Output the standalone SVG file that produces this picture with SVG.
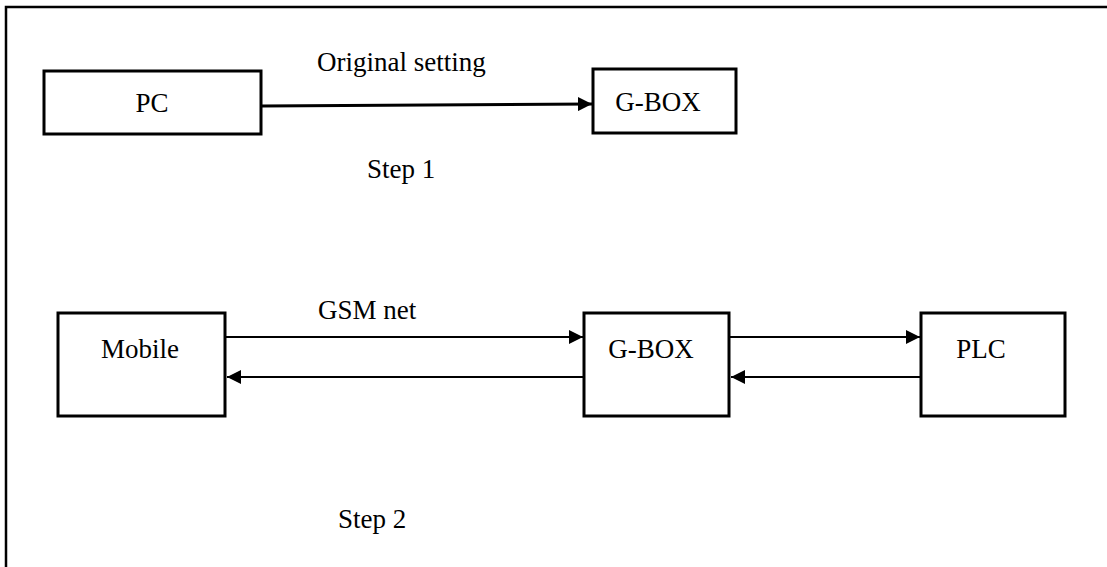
<svg xmlns="http://www.w3.org/2000/svg" width="1107" height="567" viewBox="0 0 1107 567">
<defs>
<style>
.box{fill:#fff;stroke:#000;stroke-width:3}
.lbl{font-family:"Liberation Serif","Times New Roman",serif;font-size:27px;fill:#000}
.c1{stroke:#000;stroke-width:3;fill:none}
.c2{stroke:#000;stroke-width:2;fill:none}
</style>
<marker id="ah2" viewBox="0 0 10 10" refX="10" refY="5" markerWidth="14" markerHeight="14" markerUnits="userSpaceOnUse" orient="auto">
<path d="M0,0 L10,5 L0,10 Z" fill="#000"/>
</marker>
</defs>
<rect width="1107" height="567" fill="#fff"/>
<path d="M6,567 L6,7 L1107,7" fill="none" stroke="#000" stroke-width="2.5"/>
<g id="pc"><rect class="box" x="44" y="71" width="217" height="63"/><text class="lbl" x="152" y="112" text-anchor="middle">PC</text></g>
<g id="gbox1"><rect class="box" x="593" y="69" width="143" height="64"/><text class="lbl" x="658" y="111" text-anchor="middle">G-BOX</text></g>
<g id="mobile"><rect class="box" x="58" y="313" width="167" height="103"/><text class="lbl" x="140" y="358" text-anchor="middle">Mobile</text></g>
<g id="gbox2"><rect class="box" x="584" y="313" width="145" height="103"/><text class="lbl" x="651" y="358" text-anchor="middle">G-BOX</text></g>
<g id="plc"><rect class="box" x="921" y="313" width="144" height="103"/><text class="lbl" x="981" y="358" text-anchor="middle">PLC</text></g>
<g id="connectors">
<line class="c1" x1="262" y1="106" x2="592" y2="104" marker-end="url(#ah2)"/>
<line class="c2" x1="226" y1="337" x2="583" y2="337" marker-end="url(#ah2)"/>
<line class="c2" x1="583" y1="377" x2="227" y2="377" marker-end="url(#ah2)"/>
<line class="c2" x1="730" y1="337" x2="920" y2="337" marker-end="url(#ah2)"/>
<line class="c2" x1="920" y1="377" x2="731" y2="377" marker-end="url(#ah2)"/>
</g>
<g id="labels">
<text class="lbl" x="317" y="71">Original setting</text>
<text class="lbl" x="367" y="178">Step 1</text>
<text class="lbl" x="318" y="319">GSM net</text>
<text class="lbl" x="338" y="528">Step 2</text>
</g>
</svg>
